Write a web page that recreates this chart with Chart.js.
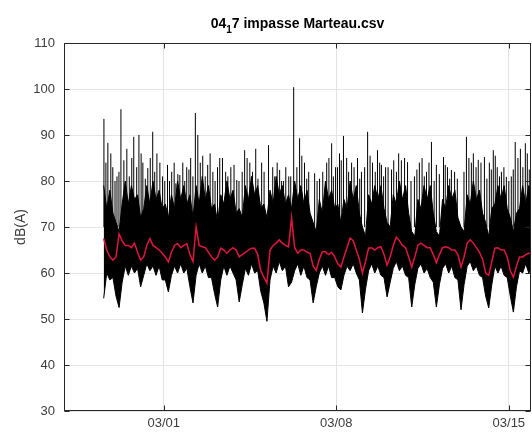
<!DOCTYPE html>
<html>
<head>
<meta charset="utf-8">
<script src="https://cdn.jsdelivr.net/npm/chart.js@4.4.1/dist/chart.umd.min.js"></script>
<style>
  html, body { margin: 0; padding: 0; background: #fff; }
</style>
</head>
<body>
<canvas id="chart" width="532" height="435"></canvas>
<script>
// Title, split so the "1" can be drawn as a subscript
const titleParts = ["04", "1", "7 impasse Marteau.csv"];
const yTitle = "dB(A)";

// x is in days from 03/01 00:00
const xTickDays = [0, 7, 14];
const xTickLabels = ["03/01", "03/08", "03/15"];

// black trace, one sample every 3 hours from the first reading
const sampleStart = -2.44;
const sampleStep = 0.125;

// top of the dense black band
const bandTop = [79,74,78,73,71,69,75,80,75,79,
  76,77,72,74,79,75,80,76,78,74,
  75,72,77,74,80,76,79,75,77,72,
  79,75,81,76,79,74,75,71,77,75,
  80,76,78,73,74,72,79,76,81,77,
  79,74,75,72,78,75,81,77,79,75,
  77,74,80,76,79,75,78,73,71,69,
  76,73,80,76,78,74,75,71,76,74,
  80,76,79,73,70,68,77,75,79,76,
  79,74,71,70,77,75,80,76,79,73,
  69,68,76,74,79,76,79,73,69,68,
  76,74,79,76,78,72,70,69,77,75,
  80,76,78,73,71,68,74,75,79,76,
  79,74,72,69,73,74,79,75,79,76];

// bottom of the dense black band (night dips)
const bandBottom = [54.5,60,58.5,59,55,52.5,58,61.5,59.5,61.5,
  60,61,57,59.5,62,60.5,61.5,59.5,61.5,58.5,
  58.5,55.9,59.5,61.5,60,62,60,61,57,53.5,
  59.5,62,60,61.5,59,59,55.5,52.6,58.5,61.5,
  59.5,61.5,60,58.5,53.7,57.5,61,59.5,62,60,
  60.5,56,53.5,49.5,58.5,61.5,60,62.5,60.5,61.5,
  57,58,60.5,62,59.5,61.5,59,58.5,53.5,57,
  60,61.5,59.5,61.5,59,59,57,56.3,59.5,61.5,
  60.5,62,60,58.5,51.3,56.5,60.5,62,60,61.5,
  59.5,59,54.8,58,61,62.5,60.5,61.5,59.5,59,
  52.6,57.5,61,62,60,61,59,58,52.6,57.5,
  61,62,60,61.5,59,58.5,52,57.5,61.5,62.5,
  60.5,61.5,59.5,59,55,52.4,57.5,61.5,60,61.5,
  59.5,59,55,51.5,57,60.5,60,62,60,61];

// smoothed level (red)
const smoothLevel = [67.5,65,63.5,62.8,63.5,68.5,67,66,66,65.5,
  66.5,64.5,62.8,63.5,66,67.5,66,65.5,65,64.3,
  63.5,62.4,64.5,66,66.4,65.5,66,66.4,64,62.5,
  70,66,65.7,65.5,64.5,63.5,62.8,63.5,65.4,65,
  64.3,65,65.5,65,63.5,64,64.5,65,65.4,65.4,
  64,60.5,59.1,57.8,65,66,66.5,67.2,66.5,66,
  65.7,72,65.5,64.3,65,65,64.5,64.3,61.5,60.6,
  63,64.6,64.6,64,64.5,63.5,62,61.3,63.5,65.5,
  67.6,67,65,63,60,62.5,65.4,65.5,65,65.5,
  65.7,64,61.7,63.5,66,67.8,67,66,65.5,63.5,
  61.3,63.5,66,66.5,66,65.5,65.5,64,62.2,64,
  65.5,65.7,65.5,65,65,64,61.3,63.5,66.5,67.2,
  66.5,65.5,64.5,63,60,59.5,62.5,65.4,65.5,65,
  65,63.5,60.5,59.1,61.5,63.5,63.5,64,64.3,64.3];

// isolated peaks sticking out above the band
const spikeDays = [-2.43,-2.27,-2.07,-1.90,-1.74,-1.50,-1.22,-1.01,-0.85,-0.65,
  -0.45,-0.28,-0.16,0.04,0.32,0.49,0.65,0.93,1.09,1.28,
  1.38,1.58,1.78,1.99,2.27,2.51,2.72,2.96,3.28,3.49,
  3.73,3.97,4.25,4.42,4.70,4.86,5.07,5.27,5.51,5.71,
  5.88,6.12,6.32,6.61,6.81,6.97,7.13,7.29,7.42,7.62,
  7.86,8.02,8.27,8.47,8.67,8.83,9.00,9.24,9.44,9.64,
  9.77,9.89,10.17,10.37,10.66,10.86,11.06,11.35,11.51,11.67,
  11.91,12.28,12.48,12.56,12.76,13.01,13.21,13.37,13.53,13.70,
  13.90,14.10,14.26,14.47,14.67,14.83,
  -2.35,-2.15,-1.98,-1.82,-1.62,-1.40,-1.30,-1.10,-0.92,-0.75,
  -0.55,-0.37,-0.05,0.15,0.23,0.42,0.57,0.77,0.85,1.02,
  1.18,1.48,1.68,1.88,2.08,2.18,2.38,2.60,2.85,3.05,
  3.18,3.38,3.60,3.82,4.07,4.50,4.60,4.78,4.95,5.15,
  5.40,5.60,5.80,6.22,6.45,6.70,6.88,7.05,7.20,7.50,
  7.72,7.95,8.15,8.37,8.58,8.76,8.92,9.10,9.33,9.53,
  10.03,10.27,10.48,10.57,10.76,10.97,11.18,11.42,11.60,11.80,
  12.18,12.38,12.67,12.87,13.11,13.29,13.45,13.62,13.80,14.00,
  14.18,14.37,14.57,14.75];
const spikePeaks = [93.5,88.3,83,81,95.6,87,89.6,90,84,82.8,
  90.7,86,84,80,82,79.5,81.3,83,85,94.8,
  90,85.5,83.5,82,85,82,83,80.2,86.7,84,
  87,84,87.8,83,82.4,80,81,100.4,89.3,84,
  82,81.7,80.5,84,88.2,83,86,89.8,85,84,
  85,82,90.7,84,86.7,83.5,83,82.5,82,84.5,
  85,84.1,81,84,82,88.5,83.5,85.2,83,82.4,
  80.5,89.6,84,86,84.6,85.2,84,86.7,83,82,
  80.9,81,88.5,87,88.2,82.5,
  84,86,80,82,84.5,81,85,83,86,80.5,
  85,82,81,83.5,80,84,81.5,84,80,82.5,
  81,84,81,86,80,83,85,81,83.5,80,
  82,85,82,80.5,82,81,84,80,83,81,
  83,85.5,80.5,80,82,85,81,83,84.5,82,
  83,80.5,83,85.5,82,84,81,83,84.5,86,
  80,82.5,85,81,84,80,81.5,83.5,80.5,82,
  82,85,83,84,80.5,82.5,85.5,81,83,80,
  82.5,85,83,86];
const spikeBase = 70;

const times = bandTop.map((_, i) => sampleStart + i * sampleStep);
const toPoints = arr => arr.map((v, i) => ({ x: times[i], y: v }));

const spikeData = [];
spikeDays.forEach((d, k) => {
  spikeData.push({ x: d, y: spikeBase }, { x: d, y: spikePeaks[k] }, { x: d, y: null });
});

const axisColor = "#262626";
const textColor = "#3c3c3c";
const gridColor = "#e4e4e4";
const font = '"Liberation Sans", Arial, Helvetica, sans-serif';

// MATLAB style frame with inward ticks, drawn over the data
const framePlugin = {
  id: "frame",
  afterDatasetsDraw(chart) {
    const ctx = chart.ctx;
    const a = chart.chartArea;
    const xs = chart.scales.x, ys = chart.scales.y;
    const L = Math.round(a.left) + 0.5, R = Math.round(a.right) - 0.5;
    const T = Math.round(a.top) + 0.5, B = Math.round(a.bottom) - 0.5;
    ctx.save();
    ctx.strokeStyle = axisColor;
    ctx.lineWidth = 1;
    ctx.strokeRect(L, T, R - L, B - T);
    ctx.beginPath();
    ys.ticks.forEach(t => {
      const y = Math.round(ys.getPixelForValue(t.value)) + 0.5;
      ctx.moveTo(L, y); ctx.lineTo(L + 5, y);
      ctx.moveTo(R, y); ctx.lineTo(R - 5, y);
    });
    xs.ticks.forEach(t => {
      const x = Math.round(xs.getPixelForValue(t.value)) + 0.5;
      ctx.moveTo(x, B); ctx.lineTo(x, B - 5);
      ctx.moveTo(x, T); ctx.lineTo(x, T + 5);
    });
    ctx.stroke();
    ctx.restore();
  },
  afterDraw(chart) {
    // title with subscript
    const ctx = chart.ctx;
    const a = chart.chartArea;
    const big = "bold 14px " + font;
    const small = "bold 10px " + font;
    ctx.save();
    ctx.font = big;
    const w1 = ctx.measureText(titleParts[0]).width;
    const w3 = ctx.measureText(titleParts[2]).width;
    ctx.font = small;
    const w2 = ctx.measureText(titleParts[1]).width;
    let x = (a.left + a.right) / 2 - (w1 + w2 + w3) / 2;
    ctx.fillStyle = "#000";
    ctx.textBaseline = "alphabetic";
    ctx.textAlign = "left";
    ctx.font = big;
    ctx.fillText(titleParts[0], x, 28);
    x += w1;
    ctx.font = small;
    ctx.fillText(titleParts[1], x, 33);
    x += w2;
    ctx.font = big;
    ctx.fillText(titleParts[2], x, 28);
    ctx.restore();
  }
};

new Chart(document.getElementById("chart"), {
  type: "line",
  data: {
    datasets: [
      {
        data: toPoints(smoothLevel),
        borderColor: "#e0163f",
        borderWidth: 1.5,
        pointRadius: 0,
        order: 0
      },
      {
        data: spikeData,
        borderColor: "#000",
        borderWidth: 1,
        pointRadius: 0,
        spanGaps: false,
        order: 1
      },
      {
        data: toPoints(bandTop),
        borderColor: "#000",
        borderWidth: 1,
        backgroundColor: "#000",
        pointRadius: 0,
        fill: "+1",
        order: 2
      },
      {
        data: toPoints(bandBottom),
        borderColor: "#000",
        borderWidth: 1,
        pointRadius: 0,
        order: 3
      }
    ]
  },
  options: {
    responsive: false,
    animation: false,
    layout: { padding: { top: 43, right: 1, left: 0, bottom: 0 } },
    plugins: {
      legend: { display: false },
      tooltip: { enabled: false },
      title: { display: false }
    },
    scales: {
      x: {
        type: "linear",
        min: -4.05,
        max: 14.9,
        afterBuildTicks: s => { s.ticks = xTickDays.map(v => ({ value: v })); },
        afterFit: s => { s.height = 24; },
        grid: { color: gridColor, drawTicks: false },
        border: { display: false },
        ticks: {
          padding: 5,
          color: textColor,
          font: { family: font, size: 13 },
          maxRotation: 0,
          callback: (v, i) => xTickLabels[i]
        }
      },
      y: {
        min: 30,
        max: 110,
        afterFit: s => { s.width = 64; },
        grid: { color: gridColor, drawTicks: false },
        border: { display: false },
        ticks: {
          stepSize: 10,
          padding: 9,
          color: textColor,
          font: { family: font, size: 13 }
        },
        title: {
          display: true,
          text: yTitle,
          color: textColor,
          font: { family: font, size: 14 },
          padding: { top: 13, bottom: 0 }
        }
      }
    }
  },
  plugins: [framePlugin]
});
</script>
</body>
</html>
